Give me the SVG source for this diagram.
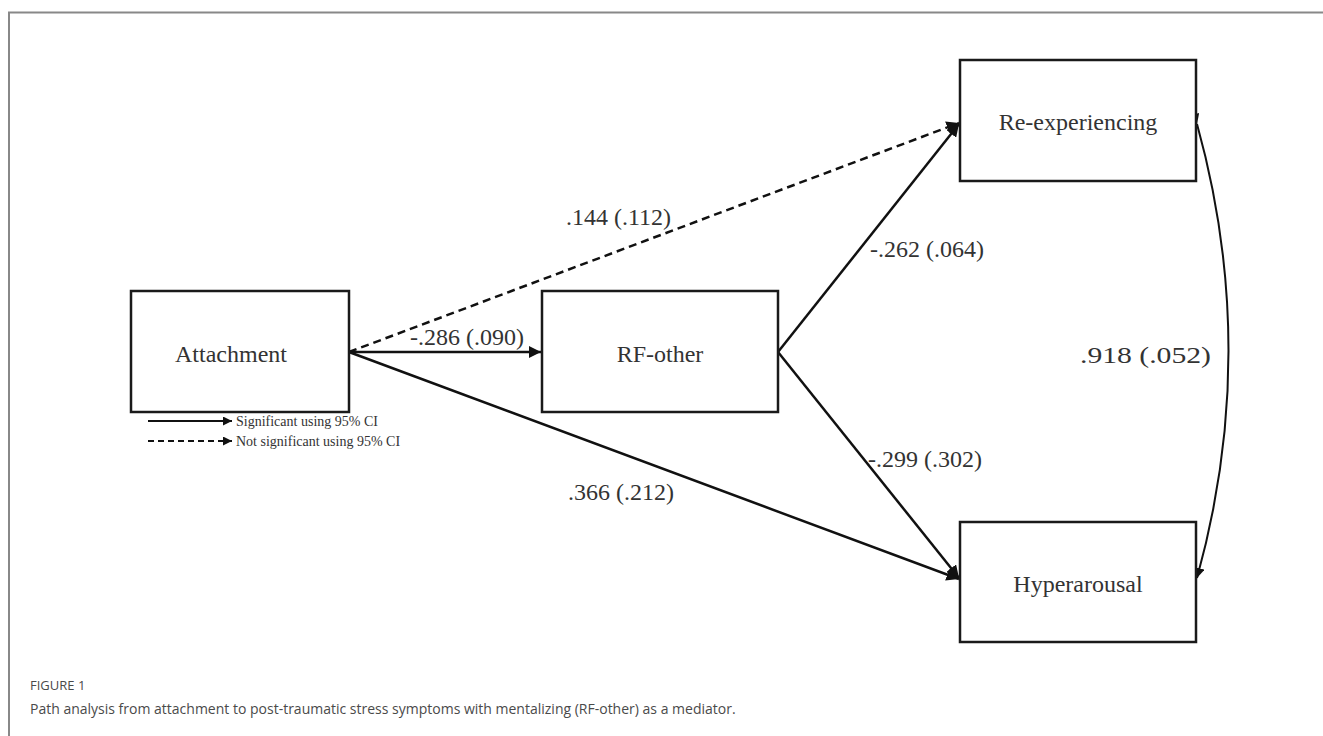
<svg xmlns="http://www.w3.org/2000/svg" width="1323" height="736" viewBox="0 0 1323 736">
<style>
.box{fill:#fff;stroke:#1a1a1a;stroke-width:2.5}
.nt{font-family:"Liberation Serif","Times New Roman",serif;font-size:24px;fill:#333;text-anchor:middle}
.lbl{font-family:"Liberation Serif","Times New Roman",serif;font-size:24px;fill:#333}
.leg{font-family:"Liberation Serif","Times New Roman",serif;font-size:14px;fill:#333}
.e{fill:none;stroke:#111;stroke-width:2.5}
.d{stroke-dasharray:8 5}
.cap{font-family:"Open Sans","Noto Sans",sans-serif;fill:#4a4a4a}
</style>
<defs>
<marker id="ah" viewBox="0 0 10 10" refX="10" refY="5" markerWidth="5" markerHeight="5" orient="auto" markerUnits="strokeWidth">
<path d="M0,0 L10,5 L0,10 z" fill="#111"/>
</marker>
</defs>
<rect x="0" y="0" width="1323" height="736" fill="#fff"/>
<path d="M9,736 L9,12.5 L1323,12.5" fill="none" stroke="#888" stroke-width="2"/>

<g id="connectors">
<line class="e" x1="349" y1="352" x2="541" y2="352" marker-end="url(#ah)"/>
<line class="e d" x1="349" y1="352" x2="959" y2="123" marker-end="url(#ah)"/>
<line class="e" x1="349" y1="352" x2="959" y2="579" marker-end="url(#ah)"/>
<line class="e" x1="778" y1="352" x2="959" y2="124" marker-end="url(#ah)"/>
<line class="e" x1="778" y1="352" x2="959" y2="578" marker-end="url(#ah)"/>
<path class="e" d="M1197,124 Q1260,351 1197,578" marker-start="url(#ah)" marker-end="url(#ah)" style="stroke-width:2"/>
</g>

<g id="labels">
<text class="lbl" x="410" y="345">-.286 (.090)</text>
<text class="lbl" x="566" y="225">.144 (.112)</text>
<text class="lbl" x="870" y="257">-.262 (.064)</text>
<text class="lbl" x="868" y="467">-.299 (.302)</text>
<text class="lbl" x="568" y="500">.366 (.212)</text>
<text class="lbl" x="1080" y="363" textLength="131" lengthAdjust="spacingAndGlyphs">.918 (.052)</text>
</g>

<g id="node-attachment">
<rect class="box" x="131" y="291" width="218" height="121"/>
<text class="nt" x="231" y="362">Attachment</text>
</g>
<g id="node-rfother">
<rect class="box" x="542" y="291" width="236" height="121"/>
<text class="nt" x="660" y="362">RF-other</text>
</g>
<g id="node-reexperiencing">
<rect class="box" x="960" y="60" width="236" height="121"/>
<text class="nt" x="1078" y="130">Re-experiencing</text>
</g>
<g id="node-hyperarousal">
<rect class="box" x="960" y="522" width="236" height="120"/>
<text class="nt" x="1078" y="592">Hyperarousal</text>
</g>

<g id="legend">
<line class="e" x1="148" y1="421" x2="232" y2="421" marker-end="url(#ah)" style="stroke-width:1.8"/>
<text class="leg" x="236" y="426">Significant using 95% CI</text>
<line class="e d" x1="148" y1="441" x2="232" y2="441" marker-end="url(#ah)" style="stroke-width:1.8;stroke-dasharray:6 4"/>
<text class="leg" x="236" y="446">Not significant using 95% CI</text>
</g>

<g id="caption">
<text class="cap" x="30" y="690" font-size="13">FIGURE 1</text>
<text class="cap" x="30" y="714" font-size="14">Path analysis from attachment to post-traumatic stress symptoms with mentalizing (RF-other) as a mediator.</text>
</g>
</svg>
